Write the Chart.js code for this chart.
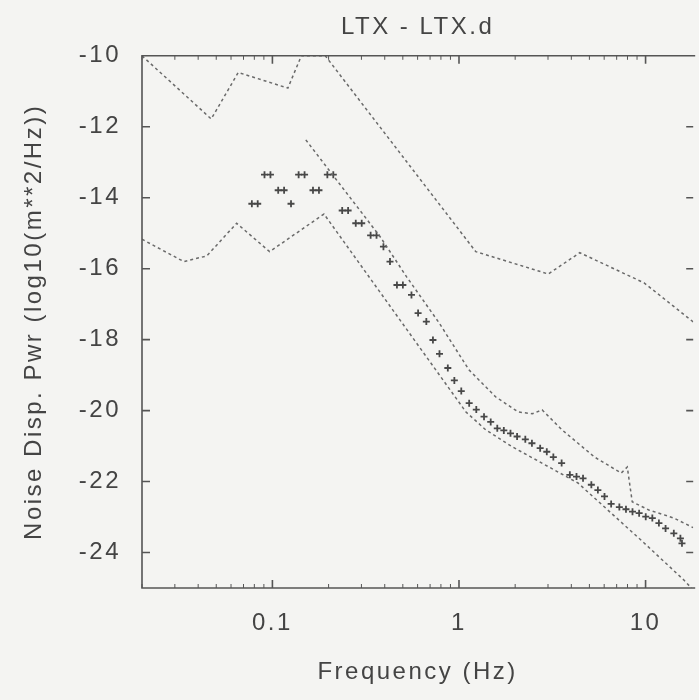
<!DOCTYPE html>
<html>
<head>
<meta charset="utf-8">
<script src="https://cdn.jsdelivr.net/npm/chart.js@4.4.1/dist/chart.umd.min.js"></script>
<style>
  body { margin: 0; background: #f4f4f2; overflow: hidden; }
  canvas { display: block; }
</style>
</head>
<body>
<canvas id="grafico" width="699" height="700"></canvas>
<script>
// espectro medido (+)
const freq = [0.0776, 0.0834, 0.0907, 0.0976, 0.1074, 0.1155, 0.1258, 0.1382, 0.1487, 0.1650,
  0.1776, 0.1970, 0.2120, 0.2366, 0.2545, 0.2797, 0.3010, 0.3360, 0.3614, 0.3936,
  0.4268, 0.4650, 0.5003, 0.5563, 0.6037, 0.6683, 0.7251, 0.7861, 0.8712, 0.9443,
  1.0285, 1.134, 1.238, 1.362, 1.479, 1.604, 1.739, 1.888, 2.048, 2.267,
  2.460, 2.723, 2.955, 3.204, 3.549, 3.928, 4.264, 4.622, 5.121, 5.551,
  6.024, 6.539, 7.236, 7.852, 8.511, 9.237, 10.02, 10.87, 11.79, 12.80,
  14.17, 15.37, 15.67];
const pwr = [-14.17, -14.17, -13.35, -13.35, -13.79, -13.79, -14.17, -13.35, -13.35, -13.79,
  -13.79, -13.35, -13.35, -14.36, -14.36, -14.72, -14.72, -15.06, -15.06, -15.38,
  -15.80, -16.46, -16.46, -16.74, -17.25, -17.49, -18.01, -18.40, -18.80, -19.15,
  -19.45, -19.79, -19.97, -20.17, -20.32, -20.50, -20.56, -20.64, -20.73, -20.81,
  -20.92, -21.06, -21.16, -21.31, -21.48, -21.81, -21.86, -21.91, -22.09, -22.24,
  -22.42, -22.63, -22.72, -22.78, -22.85, -22.89, -22.99, -23.03, -23.17, -23.32,
  -23.46, -23.60, -23.74];

// curvas tracejadas
const hiFreq = [0.02, 0.047, 0.0656, 0.121, 0.143, 0.192, 1.23, 3.01, 4.44, 9.82, 18.0];
const hiPwr = [-10.0, -11.78, -10.47, -10.91, -10.0, -10.0, -15.52, -16.15, -15.55, -16.40, -17.5];

const midFreq = [0.151, 0.378, 0.524, 0.783, 1.13, 1.57, 2.08, 2.47, 2.79, 3.56, 5.33, 7.41, 7.98, 8.48, 10.4, 14.2, 18.0];
const midPwr = [-12.37, -15.10, -16.23, -17.53, -18.85, -19.61, -20.04, -20.09, -19.98, -20.54, -21.31, -21.76, -21.59, -22.57, -22.80, -23.03, -23.3];

const loFreq = [0.02, 0.0335, 0.0445, 0.0643, 0.0966, 0.189, 1.09, 1.39, 1.93, 4.34, 9.82, 16.0, 17.6];
const loPwr = [-15.17, -15.80, -15.64, -14.72, -15.52, -14.46, -20.04, -20.54, -21.02, -22.04, -23.73, -24.77, -25.0];

const xTicks = [0.1, 1, 10];
const yTicks = [-24, -22, -20, -18, -16, -14, -12, -10];

function pontos(xs, ys) {
    return xs.map((x, i) => ({ x: x, y: ys[i] }));
}

function tracejado(xs, ys) {
    return {
        data: pontos(xs, ys),
        showLine: true,
        borderColor: '#6a6a6a',
        borderWidth: 1.5,
        borderDash: [3, 3],
        pointRadius: 0,
        tension: 0
    };
}

// espaçamento das letras (o texto do original é mais largo)
const espaco = {
    id: 'espaco',
    beforeUpdate(chart) { chart.ctx.letterSpacing = '2.5px'; },
    beforeDraw(chart) { chart.ctx.letterSpacing = '2.5px'; }
};

// moldura com marcas para dentro (a borda direita fica fora da imagem)
const moldura = {
    id: 'moldura',
    afterDatasetsDraw(chart) {
        const { ctx, chartArea: a, scales: { x, y } } = chart;
        ctx.save();
        ctx.strokeStyle = '#555';
        ctx.lineWidth = 1.6;
        ctx.beginPath();
        ctx.moveTo(a.right + 2, a.top);
        ctx.lineTo(a.left, a.top);
        ctx.lineTo(a.left, a.bottom);
        ctx.lineTo(a.right + 2, a.bottom);
        yTicks.forEach(v => {
            const py = y.getPixelForValue(v);
            ctx.moveTo(a.left, py); ctx.lineTo(a.left + 8, py);
            ctx.moveTo(a.right, py); ctx.lineTo(a.right - 7, py);
        });
        xTicks.forEach(v => {
            const px = x.getPixelForValue(v);
            ctx.moveTo(px, a.bottom); ctx.lineTo(px, a.bottom - 8);
            ctx.moveTo(px, a.top); ctx.lineTo(px, a.top + 8);
        });
        ctx.stroke();
        ctx.lineWidth = 1;
        ctx.beginPath();
        [0.01, 0.1, 1, 10].forEach(d => {
            for (let m = 2; m < 10; m++) {
                const v = d * m;
                if (v < x.min || v > x.max) continue;
                const px = x.getPixelForValue(v);
                ctx.moveTo(px, a.bottom); ctx.lineTo(px, a.bottom - 4);
                ctx.moveTo(px, a.top); ctx.lineTo(px, a.top + 4);
            }
        });
        ctx.stroke();
        ctx.restore();
    }
};

Chart.defaults.font.family = '"Liberation Sans", Arial, sans-serif';
Chart.defaults.font.size = 24;
Chart.defaults.color = '#444';

const grafico = document.getElementById('grafico').getContext('2d');

const myChart = new Chart(grafico, {
    type: 'scatter',
    data: {
        datasets: [
            tracejado(hiFreq, hiPwr),
            tracejado(midFreq, midPwr),
            tracejado(loFreq, loPwr),
            {
                data: pontos(freq, pwr),
                pointStyle: 'cross',
                pointRadius: 3.5,
                borderWidth: 1.8,
                borderColor: '#484848',
                showLine: false
            }
        ]
    },
    options: {
        responsive: false,
        animation: false,
        layout: { padding: { left: 0, right: 0, top: 0, bottom: 0 } },
        plugins: {
            legend: { display: false },
            tooltip: { enabled: false },
            title: {
                display: true,
                text: 'LTX - LTX.d',
                fullSize: false,
                color: '#444',
                font: { size: 24, weight: 'normal' },
                padding: { top: 13, bottom: 14 }
            }
        },
        scales: {
            x: {
                type: 'logarithmic',
                min: 0.02,
                max: 18.0,
                afterBuildTicks: s => { s.ticks = xTicks.map(v => ({ value: v })); },
                afterFit: s => { s.height = 112; },
                grid: { display: false, drawTicks: false },
                border: { display: false },
                ticks: { padding: 21, maxRotation: 0, callback: v => String(v) },
                title: { display: true, text: 'Frequency (Hz)', padding: { top: 0, bottom: 13 } }
            },
            y: {
                min: -25,
                max: -10,
                afterBuildTicks: s => { s.ticks = yTicks.map(v => ({ value: v })); },
                afterFit: s => { s.width = 142; },
                grid: { display: false, drawTicks: false },
                border: { display: false },
                ticks: { padding: 21, callback: v => String(v) },
                title: { display: true, text: 'Noise Disp. Pwr (log10(m**2/Hz))', padding: { top: 20, bottom: 0 } }
            }
        }
    },
    plugins: [espaco, moldura]
});
</script>
</body>
</html>
